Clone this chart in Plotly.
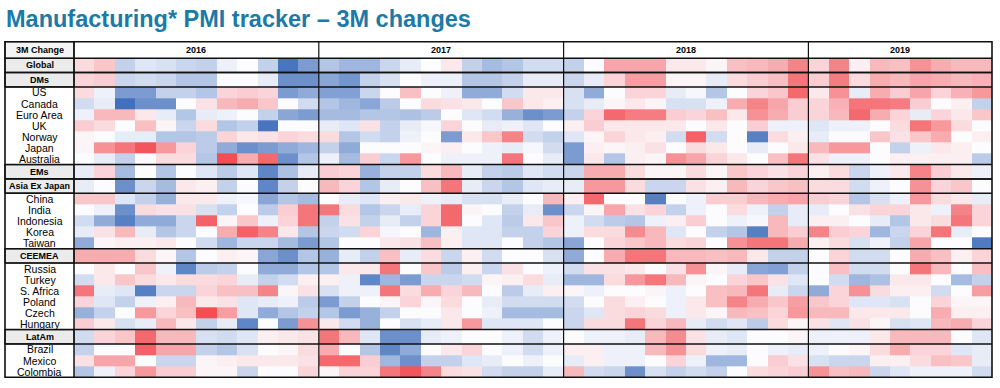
import plotly.graph_objects as go

# ---------------- data ----------------
years = ["2016", "2017", "2018", "2019"]
months_per_year = [12, 12, 12, 9]

row_labels = ["Global", "DMs", "US", "Canada", "Euro Area", "UK", "Norway", "Japan", "Australia",
              "EMs", "Asia Ex Japan", "China", "India", "Indonesia", "Korea", "Taiwan",
              "CEEMEA", "Russia", "Turkey", "S. Africa", "Poland", "Czech", "Hungary",
              "LatAm", "Brazil", "Mexico", "Colombia"]
aggregates = ["Global", "DMs", "EMs", "Asia Ex Japan", "CEEMEA", "LatAm"]

# 3M change in manufacturing PMI (points), Jan-2016 .. Sep-2019
global_ = [0.5, 0.8, -0.8, -0.4, -0.5, -0.7, -0.8, -0.2, 0, -0.8, -2.5, -1.8,
           -1.0, -1.3, -1.3, -0.7, -0.3, 0, 0.3, -0.8, -1.2, -1.0, -0.6, -0.6,
           -0.8, 0, 1.3, 1.3, 1.3, 0.3, 0.3, 0.1, 0.9, 1.0, 1.2, 1.8,
           0.6, 1.8, 0.2, 1.0, 0.9, 1.6, 1.2, 1.0, 1.0]
dms = [0.6, 0.7, -0.7, -0.6, -0.7, -1.0, -1.0, 0, 0, -0.3, -2.0, -2.0,
       -1.6, -1.9, -0.8, -0.5, 0, -0.2, -0.2, -1.0, -1.0, -0.8, -0.3, -0.3,
       -0.7, -0.3, 0.6, 1.4, 1.4, 0.1, 0.1, -0.3, 0.5, 0.7, 0.9, 2.0,
       0.7, 1.9, 0.5, 1.2, 1.0, 1.3, 1.2, 1.0, 1.1]
us = [0.5, -0.2, -1.8, -1.8, -0.8, -0.8, -1.0, 0.6, 0.7, 0.6, -1.8, -1.5,
      -1.7, -1.7, -0.7, 0, 0.9, 0, -0.2, -1.5, -1.5, -0.6, 0.3, 0.3,
      -0.5, -1.5, 0, 0.6, 0.6, -0.3, -0.1, -1.0, 0, 0.6, 0.8, 2.2,
      0.3, 1.6, -0.3, 1.2, 0.7, 1.3, 0.6, 1.1, 1.5]
canada = [-0.6, -0.3, -2.6, -2.0, -2.0, 0, 0.4, 1.0, 1.2, 0.8, 0, -0.6,
          -1.0, -1.3, -1.6, -0.9, 0, 0.5, 0.4, 0.3, 0, 0.8, 0.3, 0.2,
          -0.5, -0.3, 0.1, 0.3, 0.1, -0.5, -0.5, -0.2, 1.2, 1.8, 1.3, 0.7,
          0.6, 1.1, 2.0, 2.0, 1.9, 0.7, 0, 0.2, -0.8]
euro_area = [-0.2, 1.0, 1.0, 0.3, -0.3, -1.0, -0.3, -0.2, 0, -0.8, -1.6, -1.8,
             -1.2, -1.2, -1.0, -1.0, -1.1, -0.9, 0, -0.4, -0.6, -1.4, -2.0, -1.8,
             -0.8, 0.6, 2.2, 1.9, 1.9, 0.7, 0.6, 0.9, 0.3, 1.6, 1.2, 0.7,
             0.6, 1.0, 2.2, 1.2, 0.6, -0.3, 0.6, 0.3, 0.8]
uk = [0.7, 0.5, 0, 0.9, 0.1, -0.7, 0.5, -1.0, -0.8, -2.5, 0, 0,
      -0.3, -0.4, 0.4, -0.8, -0.3, -0.1, 0.6, 0, -0.3, -0.2, -0.4, 0,
      0.2, 0.7, 0.3, 0.3, 0.3, 0.3, 0, 0.3, 0, 0.7, -0.2, -0.2,
      -0.4, -0.2, -0.2, 0, 0.5, 2.0, 1.5, 0.5, 0]
norway = [0.1, 0, -0.3, -0.3, -1.0, -1.0, -0.9, 0.6, 0.3, 0.4, 0.6, 0.5,
          0.5, -1.0, -0.6, -0.8, -0.2, 0, -1.8, 0.3, 0.8, 1.8, -0.6, -0.8,
          -0.4, 0.1, 0.6, 0.3, 0.2, -0.6, 2.3, -0.6, 0, -2.3, 0.5, 0.2,
          -0.3, 0, 0, 0.8, 0.4, 0.8, 1.2, 0, 0.2]
japan = [0.1, 1.6, 2.0, 2.5, 1.5, 0.6, -0.9, -1.5, -2.0, -1.8, -1.5, -1.3,
         -0.8, -1.5, 0, 0, 0, 0.1, 0.2, 0, -0.2, -0.3, -0.1, -0.6,
         -1.8, 0.2, 0.1, 0.2, 0.4, 0, 0.5, 0.3, 0, -0.3, 0, 0.3,
         1.0, 1.5, 1.5, 0, -0.8, -0.2, 0.3, 0.2, 0]
australia = [0, -0.3, -0.8, 0, 0.5, 0.5, -1.0, 2.8, 1.2, 2.2, -2.0, -1.0,
             -0.2, -1.2, 0.7, -0.7, 1.5, 0, -0.2, -0.2, -0.2, 2.0, 0, -0.3,
             -1.8, 0.3, -1.0, 0.2, 0.1, 1.6, 1.3, 0.6, 0.3, 0, 0.9, 2.0,
             0.4, -0.2, -0.2, 0, 0.2, 0.2, 0.2, 0.2, -0.9]
ems = [-0.3, 0.6, -1.2, 0, -1.0, 0, -0.4, -0.9, -0.4, -2.2, -1.1, -0.3,
       0.7, 0.6, -1.4, -0.8, -0.8, 0.5, 1.0, -0.3, -0.8, -0.9, -0.4, -0.6,
       -0.7, 1.2, 1.2, 0.5, 0.1, 0.1, 0.5, 0.1, 0.8, 0.6, 0.4, 0.6,
       0.2, 0.5, -0.7, -0.2, 0.3, 1.8, 0.7, 0.3, -0.2]
asia_ex_japan = [-0.3, 0, -2.0, -0.7, -1.2, 0.3, 0.2, -0.8, 0, -2.2, -0.8, 0,
                 1.0, 0.6, -1.0, -0.3, 0, 0.9, 2.0, -0.3, -0.7, -1.0, -0.4, -0.3,
                 -0.3, 1.5, 1.5, 0.5, -0.7, -0.7, 0.4, 0.2, 1.0, 0.6, 0.8, 0.9,
                 0.5, 0.5, -0.6, -0.2, 0, 1.6, 0.6, 0.8, 0]
china = [0.8, 0.8, -0.4, -0.8, -1.4, 0.3, 0.3, -0.2, -0.1, -1.6, -1.0, -1.2,
         0, -0.3, -0.4, 0.2, 0.3, -0.2, -0.3, -0.5, -0.5, -0.3, 0, 1.0,
         0.2, 2.2, 0, 0, -2.3, 0, -0.2, 0.7, 0.7, 1.0, 1.2, 1.3,
         0.7, 0.6, -1.0, -0.5, -0.2, 1.5, 0.5, 0.3, -0.3]
india = [0, -0.2, -2.0, 0.5, 0.4, 0.4, -0.5, -0.8, 0, -0.9, 0.7, 2.0,
         2.0, 0.5, -1.0, -0.7, -0.3, 0.6, 2.2, 0.1, 0, -0.8, -0.3, -2.0,
         -0.7, 0.1, 1.3, 0.4, 0.6, -0.8, -0.2, 0, 0.5, -0.2, -0.8, -0.3,
         -0.3, 0, 0.4, 0.6, 0.6, 0.3, -0.2, 1.8, 0.6]
indonesia = [-0.6, -1.5, -2.3, -1.5, -1.5, -0.7, 2.3, 0.1, 0.8, -0.2, 0.6, 2.0,
             -0.8, 0.4, -0.8, -0.3, -0.8, 0.6, 2.2, 0, -0.4, -0.9, 0.3, 0.8,
             -0.2, -0.6, -0.9, -1.0, -0.2, 0.2, 0.7, 0, -0.2, -0.1, 1.0, -0.3,
             0.2, 0.2, 0, -0.3, -1.0, 0.3, 0.5, 2.0, 0.6]
korea = [-0.3, 0.4, 1.0, -0.3, -1.0, -0.7, 0, 1.2, 2.3, 1.8, 0.3, -1.0,
         -0.7, -0.6, 0.6, -0.1, 0, -1.3, 0.2, -0.4, -0.4, -0.8, -0.8, 0.6,
         -0.2, 0.5, 0.5, 1.7, 1.0, -0.4, 0, -0.8, -1.0, -2.3, 1.0, 0.7,
         1.8, 0.7, 0.6, -1.3, -0.7, 0.6, 2.0, -0.3, 0]
taiwan = [-1.5, 0.1, 0.2, 0.2, 0.3, 0, -0.6, -1.3, -0.7, -0.7, -1.2, -1.8,
          -1.0, 0, 0, 0.3, 0.4, 0.9, 0.2, -0.4, -0.4, 0, -0.8, -1.0,
          -1.6, 0, 0.6, 0.8, 1.0, 0.5, 0.6, 0, 1.6, 2.0, 2.0, 1.2,
          0.2, 0.5, -0.5, -0.2, -0.8, 1.3, 0, 0, -2.4]
ceemea = [1.2, 1.2, 1.2, 0.5, 0.1, -1.0, 0, 0.2, 0.1, -1.6, -2.0, -1.0,
          -1.4, -0.3, -0.8, 0.9, -0.3, 0.5, -0.7, 0.2, -0.6, 0, 0, -0.5,
          -1.5, 0, 1.2, 2.0, 2.0, 1.0, 1.0, 0.9, 1.0, 0.3, -0.8, -0.8,
          0, 0.6, -0.6, -0.6, 0, 1.2, 0.9, 0.2, 0.6]
russia = [0, 0.3, 0, 0.8, -0.2, -2.2, -0.9, -0.8, 0, -1.5, -1.5, -1.0,
          -1.0, 0.3, 0.3, 2.0, 0, 0.8, -0.9, 0.2, -0.7, 0.4, 0, -0.2,
          -0.6, 0.4, 0.4, 0.3, 0, 0.4, 1.6, 0.1, -0.3, -1.6, -1.7, -0.8,
          0, 0.9, -0.6, -0.6, 0, 2.0, 1.0, 0, 0.9]
turkey = [-0.6, 0.3, 0.8, 0.5, 0.3, 0.5, 0.5, 0.6, -0.3, -0.8, -0.6, 0.2,
          0.2, -0.2, -2.2, -1.3, -1.8, -0.7, -0.7, -0.6, 0.1, 0.2, 0.5, -0.3,
          -1.3, -1.3, 0.5, 1.5, 2.0, 1.0, 0.1, 0, 0.6, 0.8, 0.4, -0.4,
          0, -0.6, -1.3, -1.1, 0.3, 0.3, 0, -1.2, -0.8]
s_africa = [2.0, -0.3, -0.4, -2.3, -0.7, -0.7, 0.6, 0.9, 0.9, 1.8, 0.1, 0.4,
            -0.5, -0.2, -0.2, 2.0, 0.5, 1.2, 0.6, 1.0, 0, -0.9, -0.3, 0.2,
            0.1, -0.2, 0, 0, 0.1, -0.2, 0, 0.9, 1.0, 2.0, -0.3, -0.7,
            -1.5, 0.6, 1.6, 0.5, 0.2, 0.2, -0.6, 0, 1.4]
poland = [0.6, -0.4, -0.8, -0.2, 0.2, 1.0, 0.3, 0.4, -0.4, -0.3, -0.2, -0.9,
          -1.8, -0.8, 0, 0.1, 0.6, 0.1, 0.5, 0, -0.3, -0.6, -0.6, -0.6,
          -0.6, 0, 0.5, 0.2, 0, -0.2, 0.3, 0.9, 1.8, 1.2, 0.8, 1.4,
          0.8, 0.6, -0.4, -0.4, -0.5, 0, 0.6, 0.1, 0.1]
czech = [-1.4, -0.8, 0, 1.5, 0.6, 0.9, 2.6, 1.4, -0.4, -1.5, -1.0, -0.8,
         -1.0, -1.8, -1.4, -0.8, 0, 0, 0.3, 0, -0.2, -1.2, -1.2, -1.2,
         -0.7, -0.4, 0.5, 0.6, 0.5, -0.2, 0.3, 0.1, 1.0, 0.9, 0.6, 1.5,
         1.0, 1.0, 0.3, 0.3, 0.3, 0, 1.2, 0.2, 0.2]
hungary = [0.7, 0.3, -0.5, -0.3, 1.0, 0.3, -0.8, -0.3, -2.2, 0, -1.8, 1.6,
           0.3, -0.6, -1.4, 0, -0.5, -0.3, 0.3, 1.5, -0.4, -0.4, -0.4, 0,
           -0.7, 0.5, 0.5, 2.0, 0.6, 1.0, -0.3, -0.6, -0.4, -0.9, 0.5, 0.1,
           0.4, -0.4, 0.4, 0.1, -0.5, -0.4, 1.0, 1.2, 0.6]
latam = [-0.6, 0.6, 0.8, 2.2, 1.0, 1.0, -0.5, -0.6, -0.4, 0.2, 0.3, 0.4,
         2.0, 1.0, -0.4, -2.0, -2.0, -0.3, -0.2, 0, 0, -0.2, -0.6, -0.2,
         0, -0.2, -0.2, -0.3, 1.0, 1.7, 0.4, -0.3, -0.4, 0, 0, 0.1,
         -0.2, -0.2, -0.2, 0.3, 1.0, 1.0, 1.0, 0, -0.4]
brazil = [-0.8, 0, 0, 2.3, 1.3, 1.3, -0.8, -1.0, -0.5, 0, 0.1, 0.5,
          1.2, 0, -1.0, -2.2, -1.5, 0, 0.3, 0.6, 0, -0.2, -0.6, -0.2,
          0.2, 0.2, -0.2, -0.2, 1.0, 1.6, 0.5, -0.2, -0.3, 0, -0.2, -0.3,
          -0.2, 0, 0.1, 0.5, 1.2, 0.6, 0.6, -0.4, -0.3]
mexico = [0.4, 1.3, 1.3, 0, -0.7, -0.7, 0.1, 0.2, 0.3, 0.3, 0.3, 0.4,
          2.2, 2.2, 0.7, -1.3, -2.0, -0.8, -0.8, -0.4, -0.3, 0, -0.2, 0,
          -0.3, 0.2, -0.2, -0.2, 0, 0.6, -0.2, -1.3, -1.3, 0, 0.7, 0.4,
          -0.5, -0.7, -0.7, 0.2, 0.2, 0.5, 0.9, 0.8, -0.3]
colombia = [-1.0, -0.2, 0.6, 1.5, 0.7, 0.7, 0.1, 0.1, -0.7, 0, 0, 0.6,
            0.1, 0.6, 0.6, 2.0, 2.5, 1.8, 0.5, 0.4, -0.6, -0.8, -0.8, -0.3,
            1.0, -0.6, -0.7, -2.0, -0.5, -0.8, -0.6, -0.8, 0, 0.5, 0.6, 0.7,
            1.6, 0.9, 1.0, -0.7, -0.4, -0.2, -0.2, -0.2, -0.6]

z = [global_, dms, us, canada, euro_area, uk, norway, japan, australia,
     ems, asia_ex_japan, china, india, indonesia, korea, taiwan,
     ceemea, russia, turkey, s_africa, poland, czech, hungary,
     latam, brazil, mexico, colombia]

# ---------------- layout helpers (pixels) ----------------
W, H = 1000, 388
FONT = "Liberation Sans, Arial, sans-serif"
TABLE_L, TABLE_R = 5, 992
LABEL_R = 74
HEAD_T, HEAD_B = 41.7, 58.3
AGG_H, ROW_H = 14.3, 11.1

heights = [AGG_H if r in aggregates else ROW_H for r in row_labels]
edges = [0.0]
for h in heights:
    edges.append(edges[-1] + h)
total = edges[-1]
DATA_B = HEAD_B + total

n_cols = sum(months_per_year)
col_edges = list(range(n_cols + 1))


def px(x):
    return x / W


def py(y):
    return 1 - y / H


colorscale = [[0.0, "rgb(66,112,188)"], [0.5, "rgb(252,252,255)"], [1.0, "rgb(242,78,84)"]]

fig = go.Figure()
fig.add_trace(go.Heatmap(
    z=z, x=col_edges, y=edges,
    colorscale=colorscale, zmin=-2.6, zmax=2.6, zmid=0,
    showscale=False, hoverinfo="z", xgap=0, ygap=0,
))

shapes = []
annotations = []
line_c = "#111111"

# aggregate label boxes + thick row lines
for i, r in enumerate(row_labels):
    if r in aggregates:
        shapes.append(dict(type="rect", xref="paper", yref="y",
                           x0=px(TABLE_L), x1=px(LABEL_R), y0=edges[i], y1=edges[i + 1],
                           fillcolor="#ebebeb", line=dict(color=line_c, width=1.2), layer="above"))
        for e in (edges[i], edges[i + 1]):
            shapes.append(dict(type="line", xref="paper", yref="y",
                               x0=px(TABLE_L), x1=px(TABLE_R), y0=e, y1=e,
                               line=dict(color=line_c, width=1.5)))

# header
shapes.append(dict(type="rect", xref="paper", yref="paper",
                   x0=px(TABLE_L), x1=px(LABEL_R), y0=py(HEAD_B), y1=py(HEAD_T),
                   fillcolor="#f4f4f4", line=dict(color=line_c, width=1.2)))
shapes.append(dict(type="line", xref="paper", yref="paper",
                   x0=px(TABLE_L), x1=px(TABLE_R), y0=py(HEAD_B), y1=py(HEAD_B),
                   line=dict(color=line_c, width=1.5)))
# label column separator
shapes.append(dict(type="line", xref="paper", yref="paper",
                   x0=px(LABEL_R), x1=px(LABEL_R), y0=py(DATA_B), y1=py(HEAD_T),
                   line=dict(color=line_c, width=1.5)))
# year separators + year labels
start = 0
for yr, n in zip(years, months_per_year):
    if start > 0:
        shapes.append(dict(type="line", xref="x", yref="paper",
                           x0=start, x1=start, y0=py(DATA_B), y1=py(HEAD_T),
                           line=dict(color=line_c, width=1.2)))
    annotations.append(dict(xref="x", yref="paper", x=start + n / 2, y=py((HEAD_T + HEAD_B) / 2),
                            xanchor="center", yanchor="middle",
                            text="<b>%s</b>" % yr, showarrow=False,
                            font=dict(family=FONT, size=9, color="#000")))
    start += n
# outer border
shapes.append(dict(type="rect", xref="paper", yref="paper",
                   x0=px(TABLE_L), x1=px(TABLE_R), y0=py(DATA_B), y1=py(HEAD_T),
                   line=dict(color=line_c, width=1.6)))

annotations.append(dict(xref="paper", yref="paper", x=px((TABLE_L + LABEL_R) / 2),
                        y=py((HEAD_T + HEAD_B) / 2), xanchor="center", yanchor="middle",
                        text="<b>3M Change</b>", showarrow=False,
                        font=dict(family=FONT, size=9, color="#000")))

for i, r in enumerate(row_labels):
    yc = (edges[i] + edges[i + 1]) / 2
    if r in aggregates:
        txt, sz = "<b>%s</b>" % r, 9
    else:
        txt, sz = r, 10.5
    annotations.append(dict(xref="paper", yref="y", x=px((TABLE_L + LABEL_R) / 2), y=yc,
                            xanchor="center", yanchor="middle",
                            text=txt, showarrow=False,
                            font=dict(family=FONT, size=sz, color="#000")))

# title
annotations.append(dict(xref="paper", yref="paper", x=px(4), y=py(4), xanchor="left", yanchor="top",
                        text="<b>Manufacturing* PMI tracker \u2013 3M changes</b>", showarrow=False,
                        font=dict(family=FONT, size=23.5, color="#1b7aa8")))

fig.update_layout(
    width=W, height=H, margin=dict(l=0, r=0, t=0, b=0),
    paper_bgcolor="white", plot_bgcolor="white",
    xaxis=dict(domain=[px(LABEL_R), px(TABLE_R)], range=[0, n_cols], visible=False, fixedrange=True),
    yaxis=dict(domain=[py(DATA_B), py(HEAD_B)], range=[total, 0], visible=False, fixedrange=True),
    shapes=shapes, annotations=annotations, showlegend=False,
)

fig.write_html("out.html", config={"displayModeBar": False},
               post_script="document.body.style.margin='0';document.body.style.overflow='hidden';")
